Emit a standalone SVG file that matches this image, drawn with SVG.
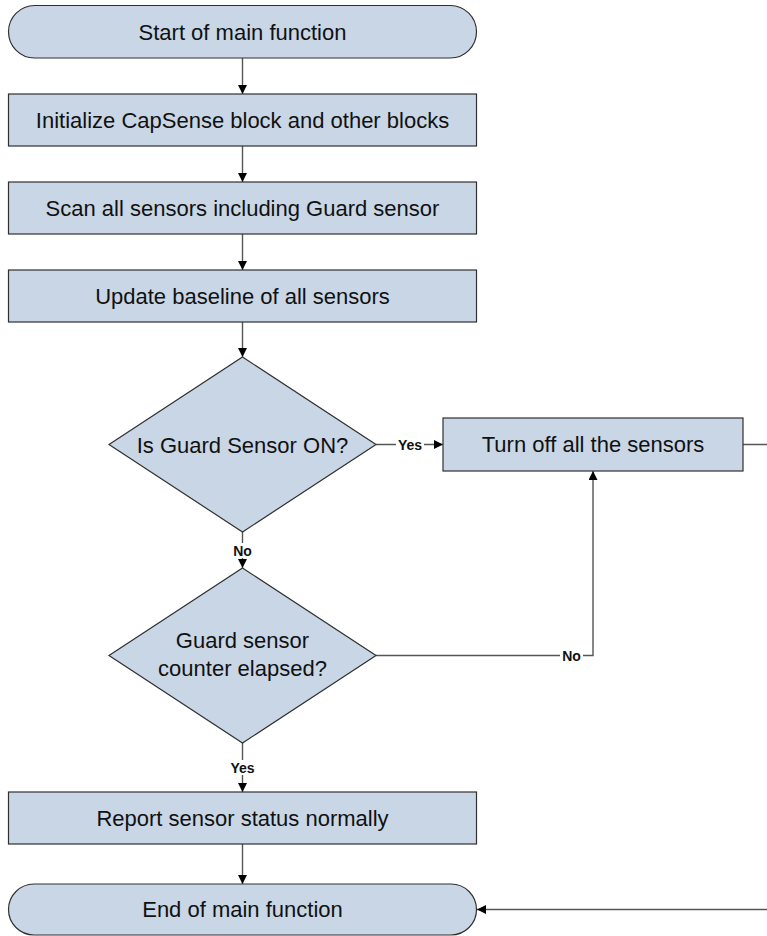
<svg xmlns="http://www.w3.org/2000/svg" width="767" height="936" viewBox="0 0 767 936">
  <defs>
    <marker id="arrow" viewBox="0 0 10 10" refX="10" refY="5" markerWidth="9" markerHeight="9" markerUnits="userSpaceOnUse" orient="auto">
      <path d="M0,0 L10,5 L0,10 Z" fill="#000"/>
    </marker>
    <style>
      .shape { fill: #c8d6e6; stroke: #303030; stroke-width: 1.2; }
      .label { font-family: "Liberation Sans", Arial, sans-serif; font-size: 22px; fill: #111; text-anchor: middle; }
      .edge { fill: none; stroke: #555; stroke-width: 1.4; }
      .tag { font-family: "Liberation Sans", Arial, sans-serif; font-size: 14px; font-weight: bold; fill: #111; text-anchor: middle; }
      .tagbg { fill: #fff; }
    </style>
  </defs>
  <rect width="767" height="936" fill="#fff"/>

  <!-- connectors -->
  <g id="connectors">
    <path class="edge" d="M242.5,58 V94" marker-end="url(#arrow)"/>
    <path class="edge" d="M242.5,146 V182" marker-end="url(#arrow)"/>
    <path class="edge" d="M242.5,234 V270" marker-end="url(#arrow)"/>
    <path class="edge" d="M242.5,322 V357" marker-end="url(#arrow)"/>
    <path class="edge" d="M376,444.5 H443" marker-end="url(#arrow)"/>
    <path class="edge" d="M242.5,532 V568" marker-end="url(#arrow)"/>
    <path class="edge" d="M376,655.5 H593 V471" marker-end="url(#arrow)"/>
    <path class="edge" d="M242.5,743 V792" marker-end="url(#arrow)"/>
    <path class="edge" d="M242.5,844 V884" marker-end="url(#arrow)"/>
    <path class="edge" d="M743,444.5 H780 V909.5 H477" marker-end="url(#arrow)"/>

    <rect class="tagbg" x="396" y="437" width="28" height="15"/>
    <text class="tag" x="410" y="449.5">Yes</text>
    <rect class="tagbg" x="231" y="543" width="23" height="15"/>
    <text class="tag" x="242.5" y="555.5">No</text>
    <rect class="tagbg" x="560" y="648" width="23" height="15"/>
    <text class="tag" x="571.5" y="660.5">No</text>
    <rect class="tagbg" x="228" y="760" width="29" height="15"/>
    <text class="tag" x="242.5" y="772.5">Yes</text>
  </g>

  <g id="start">
    <rect class="shape" x="8.5" y="5.5" width="468" height="52.5" rx="26.25" ry="26.25"/>
    <text class="label" x="242.5" y="39.5">Start of main function</text>
  </g>

  <g id="init">
    <rect class="shape" x="8.5" y="94" width="468" height="52"/>
    <text class="label" x="242.5" y="127.5">Initialize CapSense block and other blocks</text>
  </g>

  <g id="scan">
    <rect class="shape" x="8.5" y="182" width="468" height="52"/>
    <text class="label" x="242.5" y="215.5">Scan all sensors including Guard sensor</text>
  </g>

  <g id="update">
    <rect class="shape" x="8.5" y="270" width="468" height="52"/>
    <text class="label" x="242.5" y="303.5">Update baseline of all sensors</text>
  </g>

  <g id="guard-on">
    <polygon class="shape" points="242.5,357 376,444.5 242.5,532 109,444.5"/>
    <text class="label" x="242.5" y="452.5">Is Guard Sensor ON?</text>
  </g>

  <g id="turn-off">
    <rect class="shape" x="443" y="418" width="300" height="53"/>
    <text class="label" x="593" y="452">Turn off all the sensors</text>
  </g>

  <g id="counter">
    <polygon class="shape" points="242.5,568 376,655.5 242.5,743 109,655.5"/>
    <text class="label" x="242.5" y="648">Guard sensor</text>
    <text class="label" x="242.5" y="676">counter elapsed?</text>
  </g>

  <g id="report">
    <rect class="shape" x="8.5" y="792" width="468" height="52"/>
    <text class="label" x="242.5" y="825.5">Report sensor status normally</text>
  </g>

  <g id="end">
    <rect class="shape" x="8.5" y="884" width="468" height="51" rx="25.5" ry="25.5"/>
    <text class="label" x="242.5" y="917">End of main function</text>
  </g>
</svg>
